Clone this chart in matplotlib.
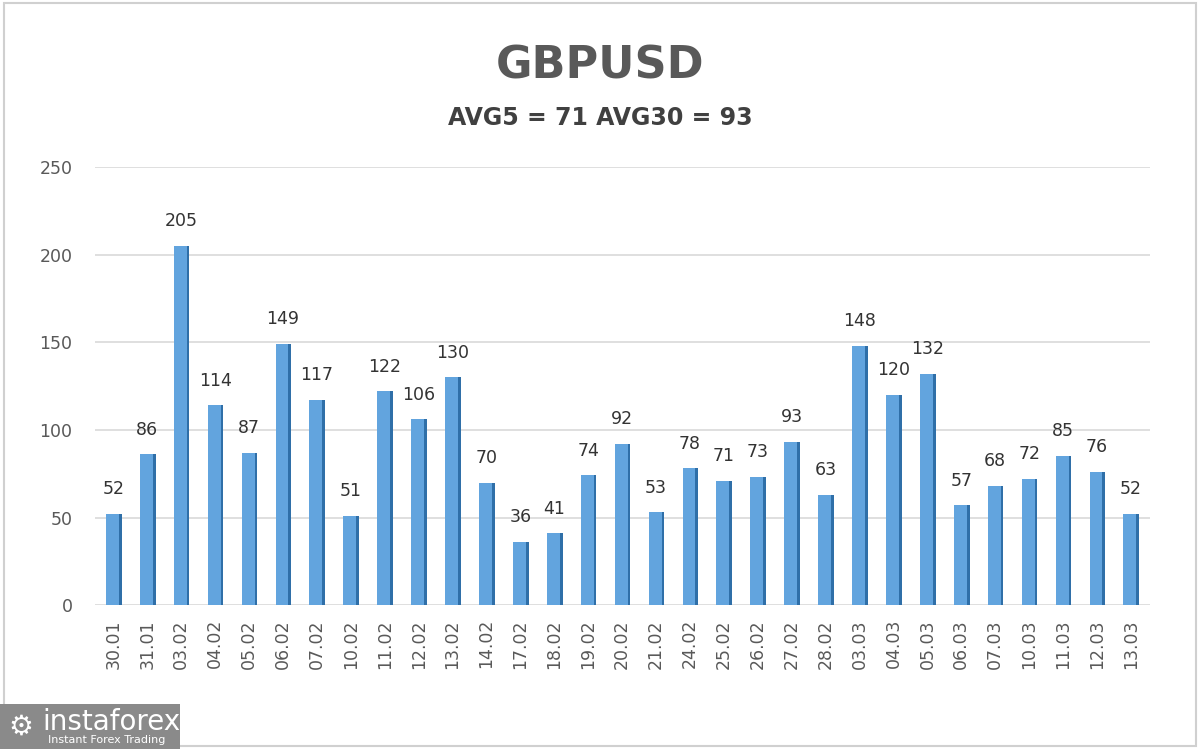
import matplotlib.pyplot as plt
from matplotlib.patches import Rectangle

dates = ["30.01", "31.01", "03.02", "04.02", "05.02", "06.02", "07.02", "10.02",
         "11.02", "12.02", "13.02", "14.02", "17.02", "18.02", "19.02", "20.02",
         "21.02", "24.02", "25.02", "26.02", "27.02", "28.02", "03.03", "04.03",
         "05.03", "06.03", "07.03", "10.03", "11.03", "12.03", "13.03"]
values = [52, 86, 205, 114, 87, 149, 117, 51, 122, 106, 130, 70, 36, 41, 74, 92,
          53, 78, 71, 73, 93, 63, 148, 120, 132, 57, 68, 72, 85, 76, 52]
yticks = [0, 50, 100, 150, 200, 250]

fig = plt.figure(figsize=(12, 7.49), dpi=100)
ax = fig.add_axes([0.079, 0.192, 0.879, 0.585])

x = list(range(len(values)))
# front face and darker side to fake the 3D column look
ax.bar(x, values, width=0.44, color="#62A4DE", zorder=3)
ax.bar([i + 0.20 for i in x], values, width=0.08, color="#2F6FA8", zorder=3)

for i, v in zip(x, values):
    ax.text(i, v + 9, str(v), ha="center", va="bottom", fontsize=12.5,
            color="#333333")

ax.set_ylim(0, 250)
ax.set_xlim(-0.55, len(values) - 0.45)
ax.set_yticks(yticks)
ax.set_xticks(x)
ax.set_xticklabels(dates, rotation=90, fontsize=12.5, color="#595959")
ax.tick_params(axis="y", labelsize=12.5, labelcolor="#595959", length=0, pad=16)
ax.tick_params(axis="x", length=0, pad=10)
ax.grid(axis="y", color="#D9D9D9", linewidth=1.2, zorder=0)
for s in ax.spines.values():
    s.set_visible(False)

fig.text(0.5, 0.912, "GBPUSD", ha="center", va="center", fontsize=32,
         fontweight="bold", color="#595959")
fig.text(0.5, 0.843, "AVG5 = 71 AVG30 = 93", ha="center", va="center",
         fontsize=17, fontweight="bold", color="#404040")

# light frame round the picture
fig.patches.append(Rectangle((0.003, 0.004), 0.994, 0.992, transform=fig.transFigure,
                             fill=False, edgecolor="#D0D0D0", linewidth=1.5))

# logo box
fig.patches.append(Rectangle((0.0, 0.0), 0.15, 0.06, transform=fig.transFigure,
                             facecolor="#8A8A8A", edgecolor="none"))
fig.text(0.035, 0.036, "instaforex", fontsize=20, color="white", va="center")
fig.text(0.04, 0.012, "Instant Forex Trading", fontsize=8, color="white", va="center")
fig.text(0.017, 0.03, "\u2699", fontsize=20, color="white", va="center", ha="center")

fig.savefig("out.png", dpi=100)
